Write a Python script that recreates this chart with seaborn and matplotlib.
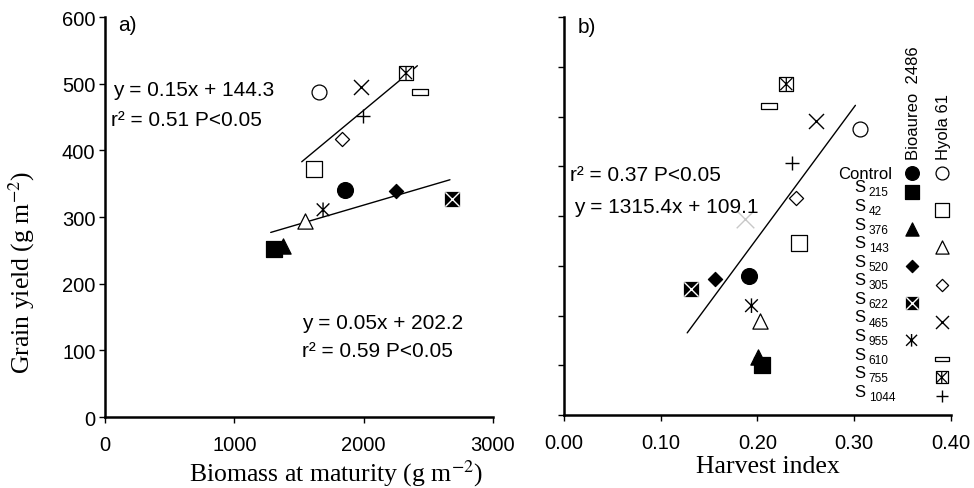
import numpy as np
import pandas as pd
import seaborn as sns
import matplotlib.pyplot as plt
from matplotlib.path import Path

# Data
treatments = ['Control', 'S215', 'S42', 'S376', 'S143', 'S520', 'S305',
              'S622', 'S465', 'S955', 'S610', 'S755', 'S1044']

bio_treat = ['Control', 'S215', 'S376', 'S520', 'S622', 'S955']
bio_biomass = [1856, 1307, 1377, 2250, 2684, 1686]
bio_yield_a = [340, 252, 257, 339, 327, 311]
bio_hi = [0.191, 0.205, 0.201, 0.156, 0.131, 0.194]
bio_yield_b = [210, 75, 87, 205, 190, 165]

hyo_treat = ['Control', 'S42', 'S143', 'S305', 'S465', 'S610', 'S755', 'S1044']
hyo_biomass = [1655, 1616, 1547, 1833, 1980, 2436, 2328, 1995]
hyo_yield_a = [487, 372, 294, 417, 495, 487, 516, 451]
hyo_hi = [0.306, 0.243, 0.203, 0.240, 0.261, 0.212, 0.230, 0.236]
hyo_yield_b = [431, 259, 142, 327, 443, 466, 499, 380]

# faint grey cross in panel b
stray_hi = [0.187]
stray_yield = [295]

# fitted lines (end points as drawn)
fit_a1_x = [1521, 2416]
fit_a1_y = [383, 527]
fit_a2_x = [1281, 2668]
fit_a2_y = [277, 356]
fit_b_x = [0.1275, 0.3015]
fit_b_y = [124, 467]

sns.set_style('ticks')
plt.rcParams['font.family'] = ['Liberation Sans', 'DejaVu Sans']
plt.rcParams['mathtext.fontset'] = 'stix'
plt.rcParams['text.color'] = 'black'
plt.rcParams['axes.labelcolor'] = 'black'
plt.rcParams['axes.edgecolor'] = 'black'

SERIF = ['Liberation Serif', 'DejaVu Serif']

M, L = Path.MOVETO, Path.LINETO
rect_marker = Path([(-1, -0.35), (1, -0.35), (1, 0.35), (-1, 0.35), (-1, -0.35)],
                   [M, L, L, L, Path.CLOSEPOLY])
aster_marker = Path([(-1, -1), (1, 1), (-1, 1), (1, -1), (0, -1.15), (0, 1.15)],
                    [M, L, M, L, M, L])

# marker kind for each cultivar / treatment
bio_kind = {'Control': 'fcircle', 'S215': 'fsquare', 'S376': 'ftri', 'S520': 'fdiam',
            'S622': 'fsqx', 'S955': 'aster'}
hyo_kind = {'Control': 'ocircle', 'S42': 'osquare', 'S143': 'otri', 'S305': 'odiam',
            'S465': 'cross', 'S610': 'orect', 'S755': 'osqx', 'S1044': 'plus'}


def put(ax, x, y, kind, k=1.0, **kw):
    lw = 0.9
    filled = dict(color='black', edgecolor='black', linewidth=lw)
    opened = dict(color='black', facecolor='white', edgecolor='black', linewidth=lw)
    stroke = dict(color='black', facecolor='none', edgecolor='black', linewidth=1.0)
    specs = {
        'fcircle': [('o', 130, filled)],
        'ocircle': [('o', 115, opened)],
        'fsquare': [('s', 120, filled)],
        'osquare': [('s', 120, opened)],
        'ftri': [('^', 120, filled)],
        'otri': [('^', 120, opened)],
        'fdiam': [('D', 52, filled)],
        'odiam': [('D', 52, opened)],
        'fsqx': [('s', 115, filled), ('x', 105, dict(color='white', linewidth=1.0))],
        'osqx': [('s', 105, opened), (aster_marker, 100, dict(stroke, linewidth=0.9))],
        'cross': [('x', 117, dict(color='black', linewidth=1.0))],
        'plus': [('+', 95, dict(color='black', linewidth=1.0))],
        'aster': [(aster_marker, 110, stroke)],
        'orect': [(rect_marker, 117, opened)],
    }
    for marker, s, style in specs[kind]:
        sns.scatterplot(x=x, y=y, marker=marker, s=s * k, ax=ax, legend=False,
                        clip_on=False, zorder=3, **style, **kw)


fig = plt.figure(figsize=(9.74, 4.89), dpi=100)
ax_a = fig.add_axes([0.108, 0.145, 0.398, 0.818])
ax_b = fig.add_axes([0.579, 0.149, 0.397, 0.814])

# panel a
ax_a.plot(fit_a1_x, fit_a1_y, color='black', lw=1.0)
ax_a.plot(fit_a2_x, fit_a2_y, color='black', lw=1.0)
for t, xv, yv in zip(bio_treat, bio_biomass, bio_yield_a):
    put(ax_a, [xv], [yv], bio_kind[t])
for t, xv, yv in zip(hyo_treat, hyo_biomass, hyo_yield_a):
    put(ax_a, [xv], [yv], hyo_kind[t])

# panel b
ax_b.plot(fit_b_x, fit_b_y, color='black', lw=1.0)
sns.scatterplot(x=stray_hi, y=stray_yield, marker='x', s=160, color='#c8c8c8',
                linewidth=1.0, ax=ax_b, legend=False)
for t, xv, yv in zip(bio_treat, bio_hi, bio_yield_b):
    put(ax_b, [xv], [yv], bio_kind[t])
for t, xv, yv in zip(hyo_treat, hyo_hi, hyo_yield_b):
    put(ax_b, [xv], [yv], hyo_kind[t])

# axes styling
for ax in (ax_a, ax_b):
    sns.despine(ax=ax)
    for sp in ('left', 'bottom'):
        ax.spines[sp].set_linewidth(1.8)
        ax.spines[sp].set_color('black')
    ax.set_ylim(0, 600)
    ax.tick_params(axis='both', direction='out', length=4, width=1.0,
                   labelsize=14.5, colors='black')
    ax.tick_params(axis='x', pad=9)
    ax.tick_params(axis='y', pad=3)

ax_a.set_xlim(0, 3000)
ax_a.set_xticks([0, 1000, 2000, 3000])
ax_a.set_yticks(np.arange(0, 601, 100))

ax_b.set_xlim(0, 0.40)
ax_b.set_xticks([0.0, 0.1, 0.2, 0.3, 0.4])
ax_b.set_xticklabels(['0.00', '0.10', '0.20', '0.30', '0.40'])
ax_b.set_yticks(np.arange(0, 601, 75))
ax_b.set_yticklabels([])

ax_a.set_xlabel('Biomass at maturity (g m$^{-2}$)', family=SERIF, fontsize=18.5)
ax_a.xaxis.set_label_coords(0.595, -0.10)
ax_a.set_ylabel('Grain yield (g m$^{-2}$)', family=SERIF, fontsize=18.5)
ax_a.yaxis.set_label_coords(-0.175, 0.365)
ax_b.set_xlabel('Harvest index', family=SERIF, fontsize=18.5)
ax_b.xaxis.set_label_coords(0.527, -0.10)
ax_b.set_ylabel('')

# annotations
ta = ax_a.transAxes
ax_a.text(0.034, 0.982, 'a)', transform=ta, fontsize=15, va='center')
ax_a.text(0.021, 0.820, 'y = 0.15x + 144.3', transform=ta, fontsize=15, va='center')
ax_a.text(0.015, 0.745, 'r² = 0.51 P<0.05', transform=ta, fontsize=15, va='center')
ax_a.text(0.508, 0.2375, 'y = 0.05x + 202.2', transform=ta, fontsize=15, va='center')
ax_a.text(0.508, 0.1675, 'r² = 0.59 P<0.05', transform=ta, fontsize=15, va='center')

tb = ax_b.transAxes
ax_b.text(0.036, 0.977, 'b)', transform=tb, fontsize=15, va='center')
ax_b.text(0.0155, 0.6055, 'r² = 0.37 P<0.05', transform=tb, fontsize=15, va='center')
ax_b.text(0.026, 0.525, 'y = 1315.4x + 109.1', transform=tb, fontsize=15, va='center')

# hand-built legend in panel b
rows = np.linspace(0.608, 0.048, len(treatments))
col_bio, col_hyo = 0.899, 0.977
ax_b.text(col_bio + 0.006, 0.643, 'Bioaureo  2486', transform=tb, fontsize=12,
          rotation=90, ha='center', va='bottom')
ax_b.text(col_hyo + 0.004, 0.643, 'Hyola 61', transform=tb, fontsize=12,
          rotation=90, ha='center', va='bottom')
for t, ry in zip(treatments, rows):
    if t == 'Control':
        ax_b.text(0.850, ry, 'Control', transform=tb, fontsize=12, ha='right', va='center')
    else:
        ax_b.text(0.752, ry + 0.012, 'S', transform=tb, fontsize=12, ha='left', va='center')
        ax_b.text(0.788, ry - 0.002, t[1:], transform=tb, fontsize=8.6, ha='left', va='center')
    if t in bio_kind:
        put(ax_b, [col_bio], [ry], bio_kind[t], k=0.75, transform=tb)
    if t in hyo_kind:
        put(ax_b, [col_hyo], [ry], hyo_kind[t], k=0.75, transform=tb)

ax_b.set_xlim(0, 0.40)
ax_b.set_ylim(0, 600)
ax_a.set_xlim(0, 3000)
ax_a.set_ylim(0, 600)

fig.savefig('out.png', dpi=100)
